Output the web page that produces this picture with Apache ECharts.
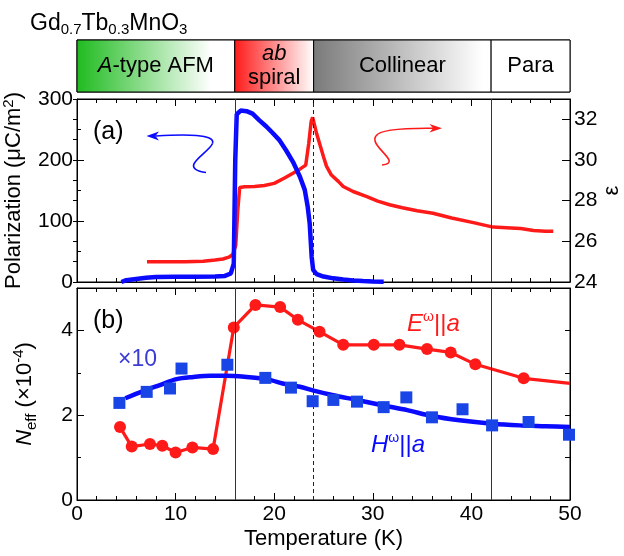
<!DOCTYPE html>
<html><head><meta charset="utf-8">
<script src="https://cdn.jsdelivr.net/npm/echarts@6/dist/echarts.min.js"></script>
<style>html,body{margin:0;padding:0;background:#fff}#c{width:624px;height:556px}</style>
</head><body><div id="c"></div>
<script>
// ---- data ----
const polT = [4.5, 5.0, 6.0, 7.0, 8.0, 10.0, 12.0, 14.0, 15.0, 15.6, 15.9, 16.05, 16.2, 16.6, 17.2, 17.8, 18.5, 19.2, 19.8, 20.5, 21.2, 21.9, 22.6, 23.1, 23.4, 23.6, 23.8, 23.95, 24.3, 25.0, 26.0, 27.0, 28.0, 29.0, 30.0, 31.1];
const polV = [0, 3, 5, 7, 8, 8.5, 8.5, 9, 10, 14, 30, 200, 275, 281, 280, 276, 265, 255, 245, 233, 216, 197, 173, 151, 123, 96, 41, 20, 13, 9, 6, 4, 2.5, 1.5, 1, 0.5];
const epsT = [7.1, 9.0, 11.0, 12.8, 14.0, 14.8, 15.4, 15.8, 16.1, 16.3, 16.5, 17.0, 18.0, 19.0, 20.0, 21.0, 21.9, 22.6, 23.2, 23.5, 23.75, 23.9, 24.3, 24.7, 25.0, 25.3, 25.8, 26.5, 27.0, 28.0, 29.4, 30.5, 31.7, 33.0, 34.5, 36.1, 38.0, 40.2, 42.2, 44.0, 45.0, 46.3, 47.5, 48.3];
const epsV = [25.0, 25.0, 25.0, 25.02, 25.08, 25.13, 25.22, 25.35, 25.8, 27.5, 28.65, 28.68, 28.7, 28.75, 28.85, 29.1, 29.35, 29.55, 29.75, 30.8, 31.9, 32.1, 31.3, 30.65, 30.16, 29.7, 29.26, 28.95, 28.7, 28.45, 28.2, 27.98, 27.8, 27.65, 27.5, 27.38, 27.15, 26.92, 26.7, 26.66, 26.63, 26.53, 26.5, 26.5];
const eT = [4.36, 5.55, 7.4, 8.65, 10.0, 11.7, 13.8, 15.9, 18.1, 20.6, 22.4, 24.6, 27.0, 30.1, 32.7, 35.5, 37.9, 40.4, 45.3];
const eV = [1.72, 1.26, 1.32, 1.28, 1.12, 1.24, 1.20, 4.07, 4.60, 4.55, 4.25, 3.97, 3.66, 3.66, 3.66, 3.56, 3.48, 3.20, 2.87];
const eLineEndT = [50.0];
const eLineEndV = [2.75];
const hT = [4.3, 7.07, 9.43, 10.6, 15.25, 19.1, 21.7, 23.9, 26.0, 28.4, 31.1, 33.4, 36.0, 39.1, 42.1, 45.8, 49.9];
const hV = [2.29, 2.55, 2.63, 3.10, 3.19, 2.88, 2.65, 2.33, 2.36, 2.32, 2.19, 2.42, 1.95, 2.14, 1.76, 1.84, 1.54];
const hFitT = [4.9, 6.7, 8.4, 10.1, 11.8, 13.5, 15.2, 17.2, 19.2, 21.2, 22.6, 24.0, 26.0, 28.4, 31.1, 33.5, 36.0, 38.8, 42.1, 44.9, 47.5, 50.0];
const hFitV = [2.40, 2.57, 2.71, 2.85, 2.90, 2.93, 2.93, 2.90, 2.85, 2.73, 2.67, 2.58, 2.47, 2.36, 2.23, 2.12, 1.98, 1.88, 1.80, 1.76, 1.74, 1.72];
const phaseBounds = [0, 16, 24, 42, 50];
const phaseLabels = ['{i|A}-type AFM', '{i|ab}\nspiral', 'Collinear', 'Para'];
const transitions = [16, 24, 42];
const xTickLabels = ['0', '10', '20', '30', '40', '50'];

// ---- build ----
const FONT = 'Liberation Sans, Arial, sans-serif';
const RED = '#ff1a1a', BLUE = '#0a0aff', SQ = '#1a45e6';
const zip = (a, b) => a.map((v, i) => [v, b[i]]);

const phaseColors = [
  {type:'linear',x:0,y:0,x2:1,y2:0,colorStops:[{offset:0,color:'#1fbb1f'},{offset:0.85,color:'#ffffff'},{offset:1,color:'#ffffff'}]},
  {type:'linear',x:0,y:0,x2:1,y2:0,colorStops:[{offset:0,color:'#ff1a1a'},{offset:1,color:'#ffffff'}]},
  {type:'linear',x:0,y:0,x2:1,y2:0,colorStops:[{offset:0,color:'#7a7a7a'},{offset:0.95,color:'#ffffff'},{offset:1,color:'#ffffff'}]},
  '#ffffff'
];

function xAx(grid, pos, showLabel, extra) {
  return Object.assign({
    type: 'value', gridIndex: grid, position: pos, min: 0, max: 50, interval: 10,
    axisLine: {show: true, onZero: false, lineStyle: {color: '#000', width: 1}},
    axisTick: {show: true, inside: true, length: 7, lineStyle: {color: '#000'}},
    minorTick: {show: true, splitNumber: 5, length: 4, lineStyle: {color: '#000'}},
    axisLabel: {show: showLabel, fontSize: 21, color: '#000', fontFamily: FONT, margin: 4,
      formatter: v => xTickLabels[Math.round(v / 10)] ?? ''},
    splitLine: {show: false}, minorSplitLine: {show: false}
  }, extra || {});
}
function yAx(grid, pos, min, max, interval, tickLen, showLabel, fmt, extra) {
  return Object.assign({
    type: 'value', gridIndex: grid, position: pos, min, max, interval,
    axisLine: {show: true, onZero: false, lineStyle: {color: '#000', width: 1}},
    axisTick: {show: true, inside: true, length: tickLen, lineStyle: {color: '#000'}},
    axisLabel: {show: showLabel, fontSize: 21, color: '#000', fontFamily: FONT, margin: 4, formatter: fmt},
    splitLine: {show: false}
  }, extra || {});
}

const vLines = {
  silent: true, symbol: ['none', 'none'], label: {show: false}, animation: false,
  lineStyle: {color: '#333', width: 1, type: 'solid'},
  emphasis: {disabled: true},
  data: transitions.map((t, i) => i === 1 ? {xAxis: t, lineStyle: {type: [4, 3], color: '#222'}} : {xAxis: t})
};

const chart = echarts.init(document.getElementById('c'), null, {renderer: 'canvas'});
chart.setOption({
  animation: false,
  backgroundColor: '#fff',
  textStyle: {fontFamily: FONT, color: '#000'},
  title: {
    text: 'Gd{s|0.7}Tb{s|0.3}MnO{s|3}', left: 25, top: 5,
    textStyle: {fontSize: 23, fontWeight: 'normal', color: '#000', fontFamily: FONT, lineHeight: 27,
      rich: {s: {fontSize: 15, verticalAlign: 'bottom', lineHeight: 10, color: '#000', fontFamily: FONT}}}
  },
  grid: [
    {left: 77, right: 54, top: 99, height: 183, show: true, borderColor: '#000', borderWidth: 1, outerBoundsMode: 'none'},
    {left: 77, right: 54, top: 288, height: 212, show: true, borderColor: '#000', borderWidth: 1, outerBoundsMode: 'none'},
    {left: 77, right: 54, top: 40, height: 52, show: true, borderColor: '#000', borderWidth: 1, outerBoundsMode: 'none'}
  ],
  xAxis: [
    xAx(0, 'bottom', false),
    xAx(0, 'top', false),
    xAx(1, 'bottom', true, {name: 'Temperature (K)', nameLocation: 'middle', nameGap: 28,
      nameTextStyle: {fontSize: 22, color: '#000', fontFamily: FONT}}),
    xAx(1, 'top', false),
    {type: 'value', gridIndex: 2, min: 0, max: 50, show: false}
  ],
  yAxis: [
    yAx(0, 'left', 0, 300, 100, 7, true, v => String(v), {
      minorTick: {show: true, splitNumber: 2, length: 4, lineStyle: {color: '#000'}},
      name: 'Polarization (μC/m{sup|2})', nameLocation: 'middle', nameGap: 48,
      nameTextStyle: {fontSize: 22, color: '#000', fontFamily: FONT, lineHeight: 26,
        rich: {sup: {fontSize: 15, verticalAlign: 'top', lineHeight: 15, fontFamily: FONT, color: '#000'}}}
    }),
    yAx(0, 'right', 24, 33, 2, 8, true, v => (v % 2 === 0 && v <= 32) ? String(v) : '', {
      name: 'ε', nameLocation: 'middle', nameGap: 31, nameMoveOverlap: false,
      nameTextStyle: {fontSize: 22, color: '#000', fontFamily: FONT}
    }),
    yAx(0, 'right', 24, 33, 1, 4, false, null, {axisLine: {show: false}}),
    yAx(1, 'left', 0, 5, 2, 7, true, v => (v % 2 === 0) ? String(v) : '', {
      name: '{i|N}{sub|eff} (×10{sup|-4})', nameLocation: 'middle', nameGap: 38,
      nameTextStyle: {fontSize: 22, color: '#000', fontFamily: FONT, lineHeight: 28,
        rich: {
          i: {fontStyle: 'italic', fontSize: 22, fontFamily: FONT, color: '#000'},
          sub: {fontSize: 15, verticalAlign: 'bottom', lineHeight: 12, fontFamily: FONT, color: '#000'},
          sup: {fontSize: 15, verticalAlign: 'top', lineHeight: 14, fontFamily: FONT, color: '#000'}
        }}
    }),
    yAx(1, 'left', 0, 5, 1, 4, false, null, {axisLine: {show: false}}),
    yAx(1, 'right', 0, 5, 1, 5, false, null),
    {type: 'value', gridIndex: 2, min: 0, max: 1, show: false}
  ],
  series: [
    {type: 'line', name: 'eps', xAxisIndex: 0, yAxisIndex: 1, data: zip(epsT, epsV), symbol: 'none',
      lineStyle: {color: RED, width: 3.5}, itemStyle: {color: RED}, z: 3, markLine: vLines, silent: true},
    {type: 'line', name: 'P', xAxisIndex: 0, yAxisIndex: 0, data: zip(polT, polV), symbol: 'none',
      lineStyle: {color: BLUE, width: 4.5}, itemStyle: {color: BLUE}, z: 4, silent: true},
    {type: 'line', name: 'Eline', xAxisIndex: 2, yAxisIndex: 3, data: zip(eT.concat(eLineEndT), eV.concat(eLineEndV)), symbol: 'none',
      lineStyle: {color: RED, width: 3.2}, itemStyle: {color: RED}, z: 3, markLine: vLines, silent: true},
    {type: 'scatter', name: 'E', xAxisIndex: 2, yAxisIndex: 3, data: zip(eT, eV), symbol: 'circle', symbolSize: 12,
      itemStyle: {color: RED, opacity: 1}, z: 4, silent: true},
    {type: 'line', name: 'Hfit', xAxisIndex: 2, yAxisIndex: 3, data: zip(hFitT, hFitV), symbol: 'none', smooth: 0.3,
      lineStyle: {color: BLUE, width: 4.5}, itemStyle: {color: BLUE}, z: 5, silent: true},
    {type: 'scatter', name: 'H', xAxisIndex: 2, yAxisIndex: 3, data: zip(hT, hV), symbol: 'rect', symbolSize: 12,
      itemStyle: {color: SQ, opacity: 1}, z: 6, silent: true},
    {type: 'line', name: 'phases', xAxisIndex: 4, yAxisIndex: 6, data: [], symbol: 'none', silent: true,
      markArea: {
        silent: true, emphasis: {disabled: true},
        data: phaseLabels.map((lab, i) => [
          {xAxis: phaseBounds[i], itemStyle: {color: phaseColors[i], borderColor: '#000', borderWidth: 1},
            label: {show: true, position: 'inside', formatter: lab, color: '#000', fontSize: 22, fontFamily: FONT, lineHeight: 24,
              rich: {i: {fontStyle: 'italic', fontSize: 22, fontFamily: FONT, color: '#000', lineHeight: 24}}}},
          {xAxis: phaseBounds[i + 1]}
        ])
      }}
  ],
  graphic: [
    {type: 'text', left: 93, top: 120, style: {text: '(a)', fontSize: 25, fontFamily: FONT, fill: '#000'}, silent: true},
    {type: 'text', left: 93, top: 309, style: {text: '(b)', fontSize: 25, fontFamily: FONT, fill: '#000'}, silent: true},
    {type: 'text', left: 118, top: 348, style: {text: '×10', fontSize: 23, fontFamily: FONT, fill: '#3b3bd6'}, silent: true},
    {type: 'text', left: 407, top: 310, style: {text: '{i|E}{s|ω}||{i|a}', fontSize: 24, fontFamily: FONT, fill: RED, lineHeight: 28,
      rich: {i: {fontStyle: 'italic', fontSize: 24, fontFamily: FONT, lineHeight: 28}, s: {fontSize: 14, verticalAlign: 'top', lineHeight: 14, fontFamily: FONT}}}, silent: true},
    {type: 'text', left: 371, top: 431, style: {text: '{i|H}{s|ω}||{i|a}', fontSize: 24, fontFamily: FONT, fill: BLUE, lineHeight: 28,
      rich: {i: {fontStyle: 'italic', fontSize: 24, fontFamily: FONT, lineHeight: 28}, s: {fontSize: 14, verticalAlign: 'top', lineHeight: 14, fontFamily: FONT}}}, silent: true},
    // blue curly arrow
    {type: 'bezierCurve', shape: {x1: 156, y1: 136, cpx1: 185, cpy1: 134, cpx2: 216, cpy2: 134, x2: 212.5, y2: 143.5},
      style: {stroke: BLUE, lineWidth: 1.6, fill: null}, silent: true},
    {type: 'bezierCurve', shape: {x1: 212.5, y1: 143.5, cpx1: 209, cpy1: 153, cpx2: 176, cpy2: 168, x2: 206, y2: 172.5},
      style: {stroke: BLUE, lineWidth: 1.6, fill: null}, silent: true},
    {type: 'polygon', shape: {points: [[146.5, 136], [159, 131.5], [155.5, 136], [159, 140.5]]}, style: {fill: BLUE}, silent: true},
    // red curly arrow
    {type: 'bezierCurve', shape: {x1: 382, y1: 165, cpx1: 404, cpy1: 163, cpx2: 368, cpy2: 146, x2: 376, y2: 136},
      style: {stroke: RED, lineWidth: 1.6, fill: null}, silent: true},
    {type: 'bezierCurve', shape: {x1: 376, y1: 136, cpx1: 380, cpy1: 129, cpx2: 405, cpy2: 128, x2: 433, y2: 128.3},
      style: {stroke: RED, lineWidth: 1.6, fill: null}, silent: true},
    {type: 'polygon', shape: {points: [[442, 128.3], [429.5, 124], [433, 128.3], [429.5, 132.6]]}, style: {fill: RED}, silent: true}
  ]
});
</script>
</body></html>
